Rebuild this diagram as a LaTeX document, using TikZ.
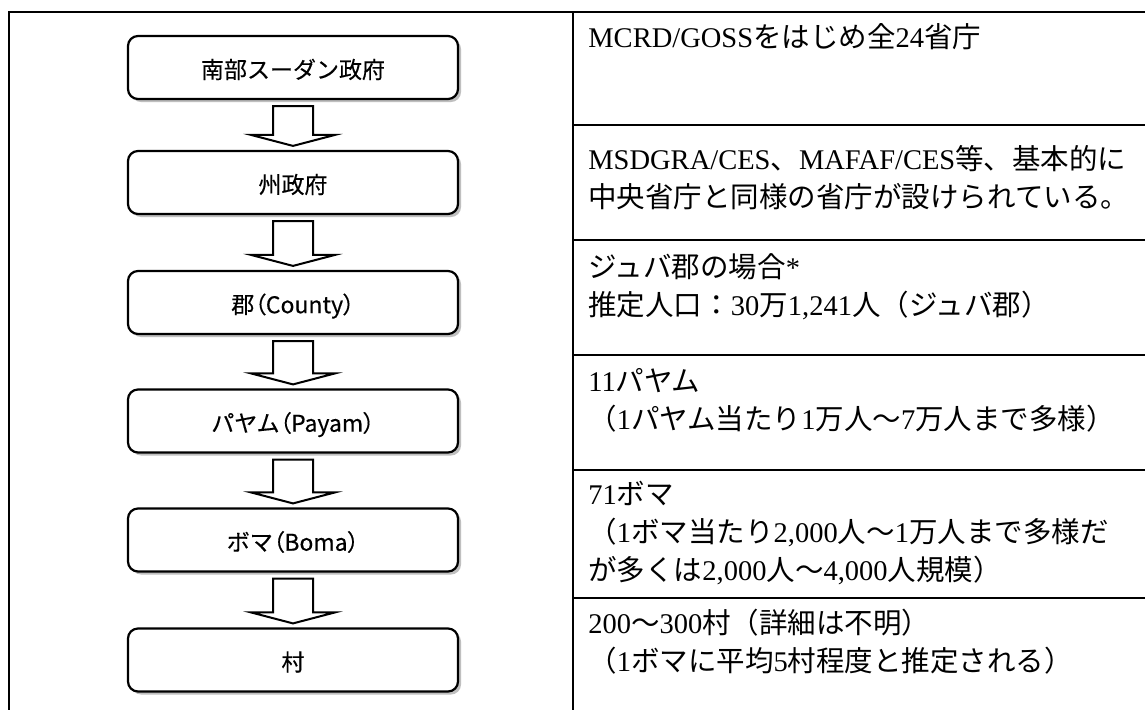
\documentclass[tikz,border=0pt]{standalone}
\usepackage{fontspec}
\setmainfont{Liberation Serif}
\newfontfamily\jpfont{Noto Sans CJK JP}
\newfontfamily\boxfont[FakeBold=0.3]{Noto Sans CJK JP}
\newfontfamily\paltfont[RawFeature={+palt},FakeBold=0.3]{Noto Sans CJK JP}
\newfontfamily\serifl{Liberation Serif}
\newcommand\RL[1]{{\serifl #1}}
\newcommand\PO{{\paltfont （}}
\newcommand\PC{{\paltfont ）}}
\usetikzlibrary{calc,shadows}
\tikzset{
  lvl/.style={draw, line width=1.1pt, rounded corners=5pt, fill=white,
    minimum width=165pt, minimum height=31.5pt, inner sep=0pt,
    text height=12.1pt, text depth=1.4pt,
    font=\boxfont\fontsize{11.5}{14}\selectfont,
    drop shadow={shadow xshift=1.5pt, shadow yshift=-1.5pt, fill=gray!50, opacity=1}},
  cell/.style={anchor=base west, inner sep=0pt, font=\jpfont\fontsize{14.25}{19}\selectfont},
  tbl/.style={line width=0.9pt, line cap=rect},
  barrow/.style={draw, line width=1pt, fill=white, line join=miter}
}
\newcommand\blkarrow[2]{%
  \draw[barrow] ($(#1.south)+(-20,6)$) -- ($(#2.north)+(-20,-15)$)
    -- ($(#2.north)+(-42,-15)$) -- ($(#2.north)+(0,-4)$)
    -- ($(#2.north)+(42,-15)$) -- ($(#2.north)+(20,-15)$)
    -- ($(#1.south)+(20,6)$) -- cycle;}
\begin{document}
\begin{tikzpicture}[x=0.5pt,y=-0.5pt]
\fill[white] (0,0) rectangle (1145,709);
\useasboundingbox (0,0) rectangle (1145,709);
% frame and table
\draw[tbl] (9,709) -- (9,12) -- (1145,12);
\draw[tbl] (573,12) -- (573,709);
\foreach \yy in {125,240,355,470,598}
  \draw[tbl] (573,\yy) -- (1145,\yy);
% level boxes
\node[lvl] (b1) at (293,67.5) {南部スーダン政府};
\node[lvl] (b2) at (293,182.5) {州政府};
\node[lvl] (b3) at (293,302.5) {郡\PO County\PC};
\node[lvl] (b4) at (293,421) {パヤム\PO Payam\PC};
\node[lvl] (b5) at (293,540) {ボマ\PO Boma\PC};
\node[lvl] (b6) at (293,660) {村};
\blkarrow{b1}{b2}
\blkarrow{b2}{b3}
\blkarrow{b3}{b4}
\blkarrow{b4}{b5}
\blkarrow{b5}{b6}
% description cells
\node[cell] (c1) at (588,47) {\RL{MCRD/GOSS}をはじめ全\RL{24}省庁};
\node[cell] (c2) at (588,169) {\begin{tabular}[t]{@{}l@{}}\RL{MSDGRA/CES}、\RL{MAFAF/CES}等、基本的に\\中央省庁と同様の省庁が設けられている。\end{tabular}};
\node[cell] (c3) at (588,277) {\begin{tabular}[t]{@{}l@{}}ジュバ郡の場合\RL{*}\\推定人口：\RL{30}万\RL{1,241}人（ジュバ郡）\end{tabular}};
\node[cell] (c4) at (588,391) {\begin{tabular}[t]{@{}l@{}}\RL{11}パヤム\\（\RL{1}パヤム当たり\RL{1}万人～\RL{7}万人まで多様）\end{tabular}};
\node[cell] (c5) at (588,504) {\begin{tabular}[t]{@{}l@{}}\RL{71}ボマ\\（\RL{1}ボマ当たり\RL{2,000}人～\RL{1}万人まで多様だ\\が多くは\RL{2,000}人～\RL{4,000}人規模）\end{tabular}};
\node[cell] (c6) at (588,633) {\begin{tabular}[t]{@{}l@{}}\RL{200}～\RL{300}村（詳細は不明）\\（\RL{1}ボマに平均\RL{5}村程度と推定される）\end{tabular}};
\end{tikzpicture}
\end{document}
